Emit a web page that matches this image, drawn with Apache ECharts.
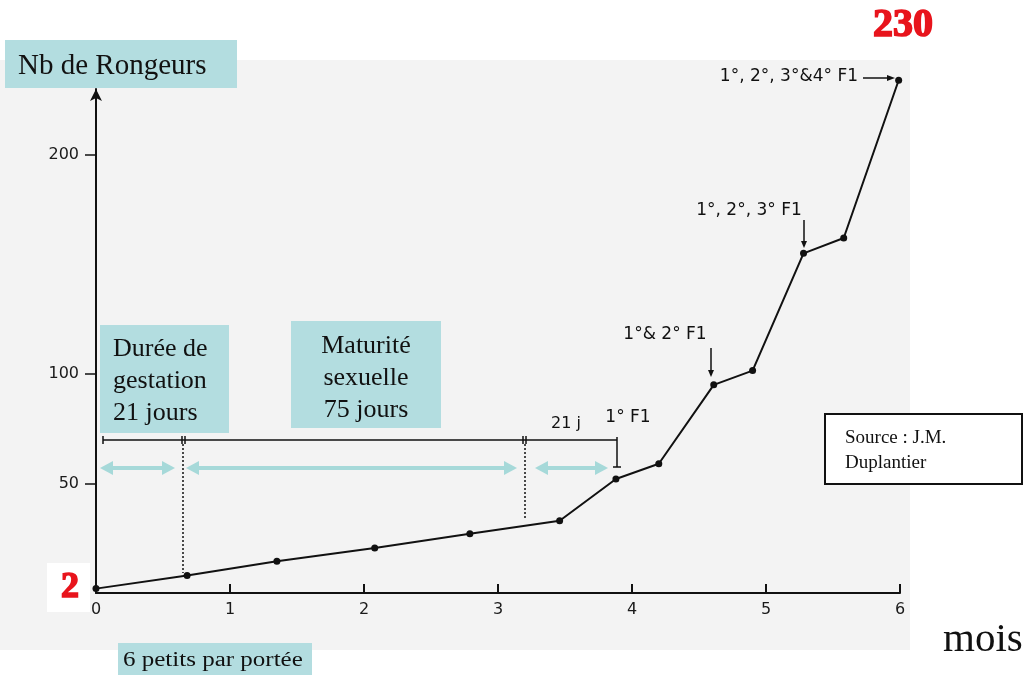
<!DOCTYPE html>
<html>
<head>
<meta charset="utf-8">
<title>Nb de Rongeurs</title>
<script src="https://cdn.jsdelivr.net/npm/echarts@6/dist/echarts.min.js"></script>
<style>body{margin:0;background:#fff}</style>
</head>
<body>
<div id="main" style="width:1027px;height:675px;"></div>
<script type="text/javascript">
// mois
let months = [0, 0.68, 1.35, 2.08, 2.79, 3.46, 3.88, 4.2, 4.61, 4.9, 5.28, 5.58, 5.99];
// nombre de rongeurs
let rodents = [2, 8, 14.5, 20.5, 27, 33, 52, 59, 95, 101.5, 155, 162, 234];
let yTickValues = [50, 100, 200];

let serif = 'Liberation Serif';
let sans = 'DejaVu Sans';
let blue = '#b3dde0';
let cyan = '#a6d9d9';
let red = '#e8141c';

function box(x, y, w, h, fill, stroke) {
    return { type: 'rect', z: 5, shape: { x: x, y: y, width: w, height: h },
        style: { fill: fill, stroke: stroke || null, lineWidth: stroke ? 2 : 0 } };
}
function txt(x, y, s, size, opt) {
    opt = opt || {};
    let st = { text: s, fill: opt.color || '#111', fontSize: size, fontFamily: opt.family || serif,
        fontWeight: opt.bold ? 'bold' : 'normal',
        textAlign: opt.align || 'left', textVerticalAlign: 'middle', lineHeight: opt.lh || size };
    if (opt.bold) { st.stroke = opt.color; st.lineWidth = 1.6; }
    return { type: 'text', z: 6, x: x, y: y, scaleX: opt.sx || 1, style: st };
}
function seg(x1, y1, x2, y2, w, color, dash) {
    return { type: 'line', z: 4, shape: { x1: x1, y1: y1, x2: x2, y2: y2 },
        style: { stroke: color || '#111', lineWidth: w || 1.5, lineDash: dash || null } };
}
function tri(points, color) {
    return { type: 'polygon', z: 4, shape: { points: points }, style: { fill: color || '#111' } };
}
function dblArrow(x1, x2, y) {
    return [
        seg(x1 + 10, y, x2 - 10, y, 4, cyan),
        tri([[x1, y], [x1 + 13, y - 7], [x1 + 13, y + 7]], cyan),
        tri([[x2, y], [x2 - 13, y - 7], [x2 - 13, y + 7]], cyan)
    ];
}
function downArrow(x, y1, y2) {
    return [seg(x, y1, x, y2 - 5, 1.5), tri([[x, y2], [x - 3, y2 - 7], [x + 3, y2 - 7]])];
}

let chart = echarts.init(document.getElementById('main'));

let graphics = [
    { type: 'rect', z: -10, shape: { x: 0, y: 60, width: 910, height: 590 }, style: { fill: '#f3f3f3' } },
    box(5, 40, 232, 48, blue),
    txt(18, 66, 'Nb de Rongeurs', 29),
    txt(903, 26, '230', 40, { bold: true, color: red, align: 'center' }),
    box(47, 563, 43, 49, '#ffffff'),
    txt(70, 588, '2', 36, { bold: true, color: red, align: 'center' }),
    box(100, 325, 129, 108, blue),
    txt(113, 381, 'Durée de\ngestation\n21 jours', 26, { lh: 32 }),
    box(291, 321, 150, 107, blue),
    txt(366, 378, 'Maturité\nsexuelle\n75 jours', 26, { lh: 32, align: 'center' }),
    box(825, 414, 197, 70, '#ffffff', '#111'),
    txt(845, 451, 'Source : J.M.\nDuplantier', 19, { lh: 25 }),
    box(118, 643, 194, 32, blue),
    txt(123, 661, '6 petits par portée', 20, { sx: 1.25 }),
    txt(943, 640, 'mois', 41),
    // ligne de durées
    seg(103, 440, 617, 440, 1.5),
    seg(103, 436, 103, 444, 1.5), seg(182, 436, 182, 444, 1.5), seg(185, 436, 185, 444, 1.5),
    seg(523, 436, 523, 444, 1.5), seg(526, 436, 526, 444, 1.5),
    seg(617, 437, 617, 467, 1.5), seg(613, 467, 621, 467, 1.5),
    seg(183, 444, 183, 573, 1.5, '#111', [2, 2]),
    seg(525, 444, 525, 520, 1.5, '#111', [2, 2]),
    txt(566, 424, '21 j', 16, { family: sans, align: 'center' }),
    txt(628, 418, '1° F1', 17, { family: sans, align: 'center' }),
    txt(665, 335, '1°& 2° F1', 17, { family: sans, align: 'center' }),
    txt(749, 211, '1°, 2°, 3° F1', 17, { family: sans, align: 'center' }),
    txt(858, 77, '1°, 2°, 3°&4° F1', 17, { family: sans, align: 'right' }),
    seg(863, 78, 888, 78, 1.5), tri([[895, 78], [887, 75], [887, 81]])
].concat(dblArrow(100, 175, 468), dblArrow(186, 517, 468), dblArrow(535, 608, 468),
    downArrow(711, 348, 377), downArrow(804, 220, 248));

chart.setOption({
    animation: false,
    grid: { left: 96, right: 127, top: 89, bottom: 82 },
    xAxis: {
        type: 'value', min: 0, max: 6, interval: 1,
        axisLine: { lineStyle: { color: '#111', width: 2 } },
        axisTick: { inside: true, length: 9, lineStyle: { color: '#111', width: 2 } },
        axisLabel: { color: '#1a1a1a', fontSize: 16, fontFamily: sans, margin: 9 },
        splitLine: { show: false }
    },
    yAxis: {
        type: 'value', min: 0, max: 230, interval: 50, offset: 3,
        axisLine: { show: true, symbol: ['none', 'arrow'], symbolSize: [9, 12], lineStyle: { color: '#111', width: 2 } },
        axisTick: { customValues: yTickValues, length: 11, lineStyle: { color: '#111', width: 1.5 } },
        axisLabel: { customValues: yTickValues, color: '#1a1a1a', fontSize: 16, fontFamily: sans, margin: 14 },
        splitLine: { show: false }
    },
    series: [{
        type: 'line',
        data: months.map(function (m, i) { return [m, rodents[i]]; }),
        clip: false,
        symbol: 'circle',
        symbolSize: 7,
        itemStyle: { color: '#111' },
        lineStyle: { color: '#111', width: 2 }
    }],
    graphic: graphics
});
</script>
</body>
</html>
